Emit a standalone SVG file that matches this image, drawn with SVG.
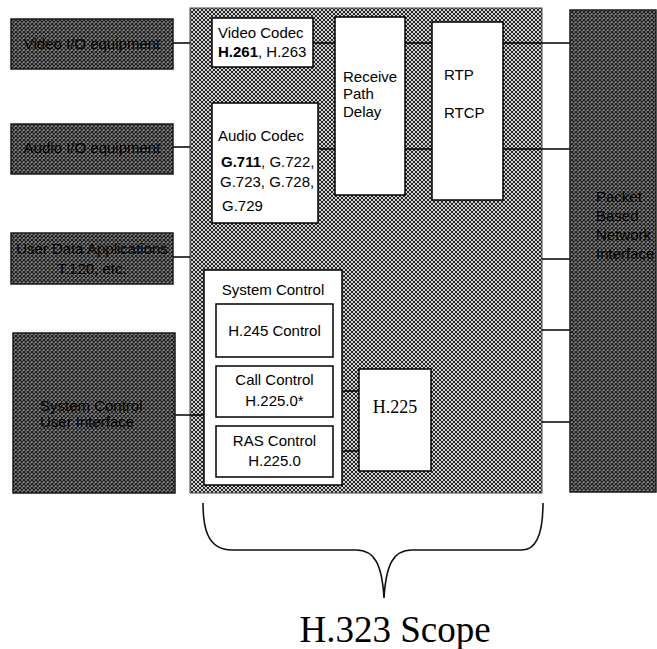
<svg xmlns="http://www.w3.org/2000/svg" width="657" height="649" viewBox="0 0 657 649">
<defs>
<pattern id="hatchLight" width="4" height="4" patternUnits="userSpaceOnUse">
<rect width="4" height="4" fill="#d0d0d0"/>
<path d="M0,0 L4,4 M4,0 L0,4" stroke="#262626" stroke-width="1"/>
</pattern>
<pattern id="hatchDark" width="4" height="4" patternUnits="userSpaceOnUse">
<rect width="4" height="4" fill="#8a8a8a"/>
<path d="M0,0 L4,4 M4,0 L0,4" stroke="#1a1a1a" stroke-width="1.2"/>
</pattern>
</defs>
<style>
.t{font-family:"Liberation Sans",Arial,sans-serif;font-size:15px;fill:#000}
.c{text-anchor:middle}
.b{font-weight:bold}
.s{font-family:"Liberation Serif","Times New Roman",serif;fill:#000}
.box{fill:#fff;stroke:#000;stroke-width:1.5}
.dark{fill:url(#hatchDark);stroke:#1a1a1a;stroke-width:1.5}
.conn{stroke:#000;stroke-width:1.5;fill:none}
</style>
<rect width="657" height="649" fill="#fff"/>

<g id="h323-scope-area">
<rect x="190" y="8" width="352" height="485" fill="url(#hatchLight)" stroke="#444" stroke-width="1"/>
</g>

<g id="connectors">
<path class="conn" d="M173,43H190 M173,147H190 M173,257H190 M175,415H204 M313,43H335 M318,149H335 M405,43H432 M405,149H432 M503,43H570 M503,149H570 M542,259H570 M542,330H570 M542,422H570 M333,391H359 M333,451H359"/>
</g>

<g id="video-io">
<rect class="dark" x="11" y="19" width="162" height="50"/>
<text class="t c" x="92" y="49">Video I/O equipment</text>
</g>
<g id="audio-io">
<rect class="dark" x="11" y="124" width="162" height="50"/>
<text class="t c" x="92" y="153">Audio I/O equipment</text>
</g>
<g id="user-data">
<rect class="dark" x="11" y="233" width="162" height="51"/>
<text class="t c" x="92" y="254">User Data Applications</text>
<text class="t c" x="92" y="274">T.120, etc.</text>
</g>
<g id="system-control-ui">
<rect class="dark" x="13" y="333" width="162" height="160"/>
<text class="t" x="40" y="411">System Control</text>
<text class="t" x="40" y="427">User Interface</text>
</g>
<g id="network-interface">
<rect class="dark" x="570" y="10" width="86" height="482"/>
<text class="t" x="596" y="202">Packet</text>
<text class="t" x="596" y="221">Based</text>
<text class="t" x="596" y="240">Network</text>
<text class="t" x="596" y="259">Interface</text>
</g>

<g id="video-codec">
<rect class="box" x="212" y="18" width="101" height="49"/>
<text class="t" x="218" y="38">Video Codec</text>
<text class="t" x="218" y="57"><tspan class="b">H.261</tspan>, H.263</text>
</g>
<g id="audio-codec">
<rect class="box" x="212" y="103" width="106" height="120"/>
<text class="t" x="218" y="141">Audio Codec</text>
<text class="t" x="221" y="167"><tspan class="b">G.711</tspan>, G.722,</text>
<text class="t" x="220" y="187">G.723, G.728,</text>
<text class="t" x="222" y="211">G.729</text>
</g>
<g id="receive-path-delay">
<rect class="box" x="335" y="17" width="70" height="178"/>
<text class="t" x="343" y="82">Receive</text>
<text class="t" x="343" y="99">Path</text>
<text class="t" x="343" y="117">Delay</text>
</g>
<g id="rtp-rtcp">
<rect class="box" x="432" y="22" width="71" height="178"/>
<text class="t" x="444" y="80">RTP</text>
<text class="t" x="444" y="118">RTCP</text>
</g>
<g id="system-control">
<rect class="box" x="204" y="270" width="138" height="215"/>
<text class="t c" x="273" y="295">System Control</text>
</g>
<g id="h245-control">
<rect class="box" x="216" y="304" width="117" height="53"/>
<text class="t c" x="274.5" y="336">H.245 Control</text>
</g>
<g id="call-control">
<rect class="box" x="216" y="366" width="117" height="51"/>
<text class="t c" x="274.5" y="385">Call Control</text>
<text class="t c" x="274.5" y="406">H.225.0*</text>
</g>
<g id="ras-control">
<rect class="box" x="216" y="426" width="117" height="51"/>
<text class="t c" x="274.5" y="446">RAS Control</text>
<text class="t c" x="274.5" y="466">H.225.0</text>
</g>
<g id="h225">
<rect class="box" x="359" y="369" width="72" height="102"/>
<text class="s c" x="395" y="413" font-size="18">H.225</text>
</g>

<g id="scope-brace">
<path d="M203,503 C203,525 206,550 232,550 L356,550 C375,550 382,565 384,598 C386,565 393,550 412,550 L522,550 C540,550 543,525 543,503" fill="none" stroke="#111" stroke-width="1.6"/>
<text class="s c" x="395" y="642" font-size="37">H.323 Scope</text>
</g>
</svg>
